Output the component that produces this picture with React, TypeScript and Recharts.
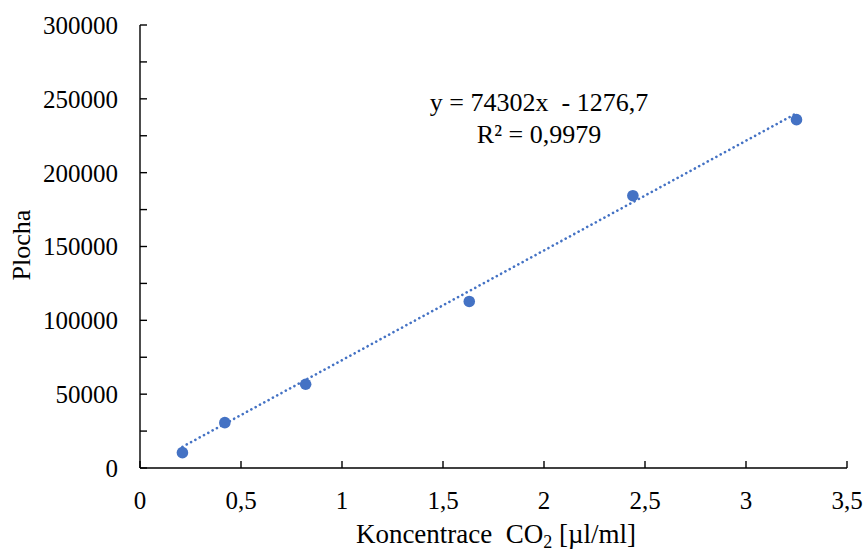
import React from 'react';
import { ScatterChart, Scatter, XAxis, YAxis } from 'recharts';

const concentrations = [0.21, 0.42, 0.82, 1.63, 2.44, 3.25];
const areas = [10400, 30700, 56700, 112800, 184400, 235900];
const xTicks = [0, 0.5, 1, 1.5, 2, 2.5, 3, 3.5];
const yTicks = [0, 25000, 50000, 75000, 100000, 125000, 150000, 175000, 200000, 225000, 250000, 275000, 300000];
const slope = 74302;
const intercept = -1276.7;

const points = concentrations.map((x, i) => ({ x, y: areas[i] }));
const xMin = Math.min(...concentrations);
const xMax = Math.max(...concentrations);
const trend = [xMin, xMax].map((x) => ({ x, y: slope * x + intercept }));

const FONT = '"Liberation Serif", "Times New Roman", serif';
const BLUE = '#4472C4';

export default function App() {
  return (
    <div style={{ position: 'absolute', left: 0, top: 0, width: 867, height: 551, background: '#fff' }}>
      <ScatterChart width={867} height={551} margin={{ top: 25, right: 20, bottom: 0, left: 0 }}>
        <XAxis
          type="number"
          dataKey="x"
          domain={[0, 3.5]}
          ticks={xTicks}
          interval={0}
          height={83}
          tickSize={-7}
          tickMargin={30}
          axisLine={{ stroke: '#000', strokeWidth: 1.4 }}
          tickLine={{ stroke: '#000', strokeWidth: 1.4 }}
          tick={{ fill: '#000', fontFamily: FONT, fontSize: 25 }}
          tickFormatter={(v: number) => String(v).replace('.', ',')}
          allowDataOverflow
        />
        <YAxis
          type="number"
          dataKey="y"
          domain={[0, 300000]}
          ticks={yTicks}
          interval={0}
          width={140}
          tickSize={-7}
          tickMargin={29}
          axisLine={{ stroke: '#000', strokeWidth: 1.4 }}
          tickLine={{ stroke: '#000', strokeWidth: 1.4 }}
          tick={{ fill: '#000', fontFamily: FONT, fontSize: 25 }}
          tickFormatter={(v: number) => (v % 50000 === 0 ? String(v) : '')}
          allowDataOverflow
        />
        <Scatter data={points} fill={BLUE} isAnimationActive={false} shape={(p: any) => <circle cx={p.cx} cy={p.cy} r={5.8} fill={BLUE} />} />
        <Scatter
          data={trend}
          isAnimationActive={false}
          line={{ stroke: BLUE, strokeWidth: 2.6, strokeDasharray: '0.1 4.8', strokeLinecap: 'round' }}
          lineType="joint"
          shape={() => <g />}
        />
      </ScatterChart>
      <svg width={867} height={551} style={{ position: 'absolute', left: 0, top: 0, pointerEvents: 'none' }}>
        <text x={30} y={245} transform="rotate(-90 30 245)" textAnchor="middle" fontFamily={FONT} fontSize={26} fill="#000">
          Plocha
        </text>
        <text x={496} y={543} textAnchor="middle" fontFamily={FONT} fontSize={27} fill="#000">
          {'Koncentrace\u00A0 CO'}
          <tspan fontSize={18} dy={5}>2</tspan>
          <tspan dy={-5}>{' [µl/ml]'}</tspan>
        </text>
        <text x={539} y={111} textAnchor="middle" fontFamily={FONT} fontSize={26} fill="#000">
          {'y = 74302x\u00A0 - 1276,7'}
        </text>
        <text x={539} y={143} textAnchor="middle" fontFamily={FONT} fontSize={26} fill="#000">
          {'R² = 0,9979'}
        </text>
      </svg>
    </div>
  );
}
